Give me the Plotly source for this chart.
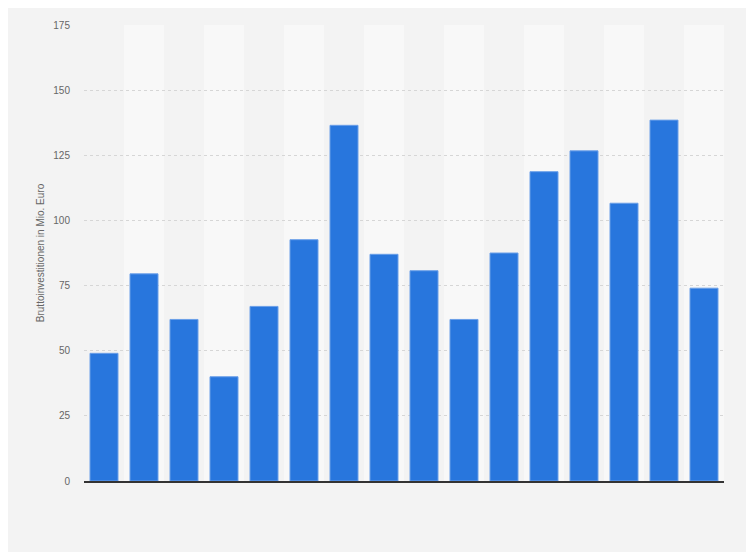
import plotly.graph_objects as go

# Bruttoinvestitionen in Mio. Euro (x labels not shown in the original)
jahre = [str(j) for j in range(2005, 2021)]
investitionen = [49, 79.5, 62, 40, 67, 92.6, 136.5, 87, 80.7, 62, 87.5, 118.7, 126.7, 106.6, 138.5, 74]
y_ticks = [0, 25, 50, 75, 100, 125, 150, 175]

fig = go.Figure(
    data=go.Bar(
        x=jahre,
        y=investitionen,
        marker_color="#2876dd",
        marker_line_color="#6a9fe8",
        marker_line_width=1,
        hovertemplate="%{x}: %{y}<extra></extra>",
    )
)

# alternating column bands behind the bars
for i in range(len(jahre)):
    if i % 2 == 1:
        fig.add_shape(
            type="rect", xref="x", yref="paper",
            x0=i - 0.5, x1=i + 0.5, y0=0, y1=1,
            fillcolor="#f8f8f8", line_width=0, layer="below",
        )

# the page body adds 8px on each side, so the figure is 16px smaller than the window
fig.update_layout(
    width=738,
    height=544,
    margin=dict(l=76, r=22, t=11, b=71),
    paper_bgcolor="#f3f3f3",
    plot_bgcolor="#f3f3f3",
    bargap=0.3,
    showlegend=False,
    font=dict(family="Liberation Sans, Arial, sans-serif", size=10, color="#666666"),
)
fig.update_xaxes(
    showticklabels=False,
    showgrid=False,
    showline=True,
    linecolor="#333333",
    linewidth=1.5,
    ticks="",
)
fig.update_yaxes(
    range=[0, 175],
    tickvals=y_ticks,
    showgrid=True,
    gridcolor="#d6d6d6",
    griddash="dot",
    gridwidth=1,
    zeroline=False,
    showline=False,
    ticks="",
    ticklabelstandoff=13,
    tickfont=dict(size=10, color="#666666"),
    title=dict(text="Bruttoinvestitionen in Mio. Euro", font=dict(size=10, color="#666666"), standoff=6),
)

fig.write_html("out.html")
